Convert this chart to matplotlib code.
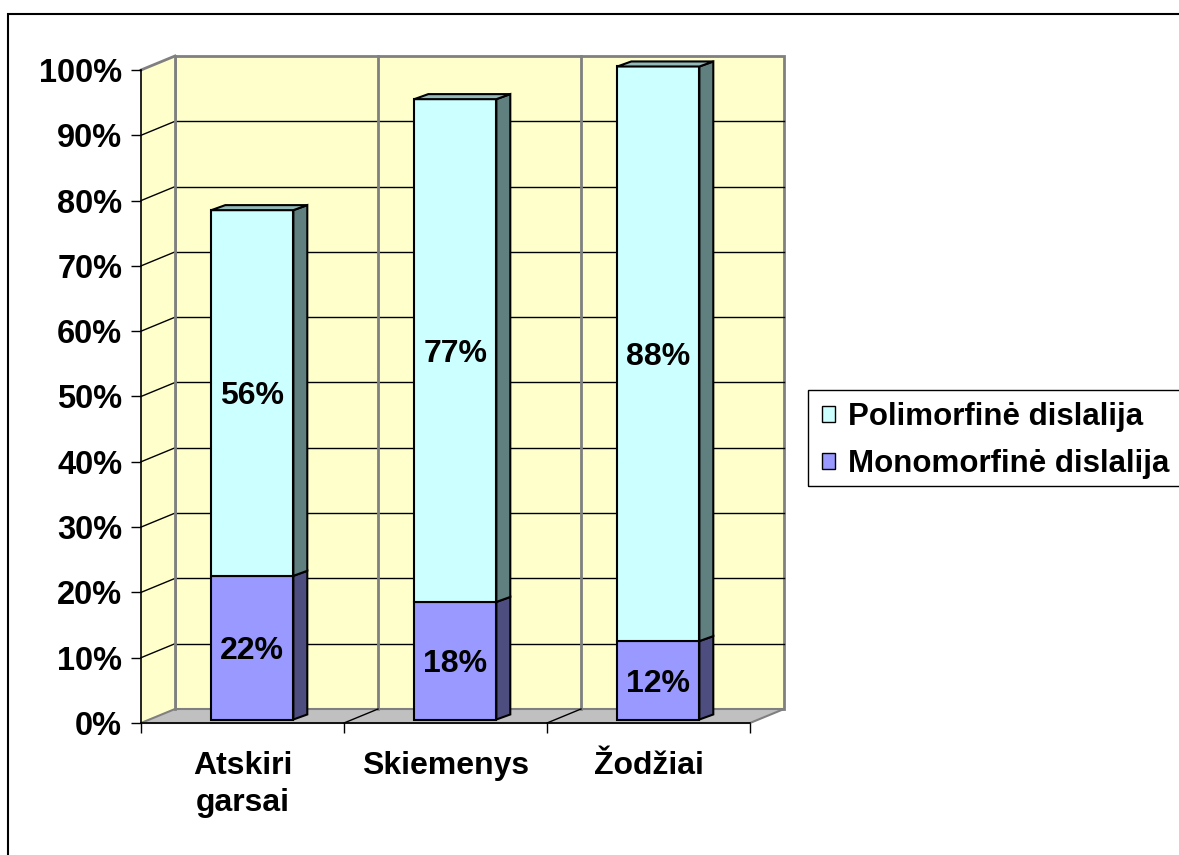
import numpy as np
import matplotlib
matplotlib.use("Agg")
import matplotlib.pyplot as plt
from matplotlib.patches import Polygon, Rectangle, Patch

plt.rcParams['font.family'] = ['Liberation Sans', 'DejaVu Sans']
plt.rcParams['font.weight'] = 'bold'

# data
categories = ["Atskiri\ngarsai", "Skiemenys", "Žodžiai"]
mono = [22, 18, 12]
poly = [56, 77, 88]
series_names = ["Polimorfinė dislalija", "Monomorfinė dislalija"]
yticks = np.arange(0, 101, 10)

# colours (Excel 97 style)
wall_c = "#FFFFCC"
floor_c = "#C0C0C0"
edge_grey = "#808080"
poly_front, poly_side, poly_top = "#CCFFFF", "#5F807F", "#93B9B9"
mono_front, mono_side, mono_top = "#9999FF", "#4D4D80", "#7373BF"

W, H = 1179, 855
fig = plt.figure(figsize=(W / 100, H / 100), dpi=100)

# front plane of the plot in pixels
x0_px, x1_px, y0_px, y1_px = 141, 750, 723, 70
ax = fig.add_axes([x0_px / W, (H - y0_px) / H, (x1_px - x0_px) / W, (y0_px - y1_px) / H])
ax.set_xlim(0, len(categories))
ax.set_ylim(0, 100)
ax.patch.set_alpha(0)

px_x = (x1_px - x0_px) / len(categories)
px_y = (y0_px - y1_px) / 100.0
DX, DY = 34 / px_x, 14 / px_y          # depth of the walls in data units
n = len(categories)


def poly_patch(pts, fc, ec, lw, z):
    p = Polygon(pts, closed=True, facecolor=fc, edgecolor=ec, lw=lw, zorder=z,
                clip_on=False, joinstyle="miter")
    ax.add_patch(p)


# walls and floor
poly_patch([(DX, DY), (n + DX, DY), (n + DX, 100 + DY), (DX, 100 + DY)], wall_c, edge_grey, 2, 0.5)
poly_patch([(0, 0), (DX, DY), (DX, 100 + DY), (0, 100)], wall_c, "none", 0, 0.5)
poly_patch([(0, 0), (n, 0), (n + DX, DY), (DX, DY)], floor_c, edge_grey, 1.5, 0.6)

for y in yticks[1:-1]:
    ax.plot([DX, n + DX], [y + DY, y + DY], color="black", lw=1, zorder=0.7, clip_on=False)
    ax.plot([0, DX], [y, y + DY], color="black", lw=1, zorder=0.7, clip_on=False)
ax.plot([0, DX], [100, 100 + DY], color=edge_grey, lw=2, zorder=0.7, clip_on=False)
ax.plot([DX, DX], [DY, 100 + DY], color=edge_grey, lw=2, zorder=0.8, clip_on=False)
for i in range(1, n):
    ax.plot([i + DX, i + DX], [DY, 100 + DY], color=edge_grey, lw=2, zorder=0.8, clip_on=False)
    ax.plot([i, i + DX], [0, DY], color="black", lw=1, zorder=0.8, clip_on=False)

# bars
bw = 82 / px_x
fx, fy = 0.29 * DX, 0.25 * DY
bx, by = 0.41 * DX, 0.36 * DY
for i in range(n):
    c = i + 0.5
    xa, xb = c - bw / 2 + fx, c + bw / 2 + fx
    segs = [(0, mono[i], mono_front, mono_side, mono_top),
            (mono[i], mono[i] + poly[i], poly_front, poly_side, poly_top)]
    for k, (b, t, cf, cs, ct) in enumerate(segs):
        poly_patch([(xb, b + fy), (xb + bx, b + fy + by), (xb + bx, t + fy + by), (xb, t + fy)],
                   cs, "black", 1.5, 3)
        poly_patch([(xa, b + fy), (xb, b + fy), (xb, t + fy), (xa, t + fy)], cf, "black", 1.5, 3)
        if k == len(segs) - 1:
            poly_patch([(xa, t + fy), (xb, t + fy), (xb + bx, t + fy + by), (xa + bx, t + fy + by)],
                       ct, "black", 1.5, 3)
        ax.text((xa + xb) / 2, (b + t) / 2 + fy - 0.5, f"{t - b}%", ha="center", va="center",
                fontsize=23, fontweight="bold", zorder=5)

# axes
for s in ["top", "right"]:
    ax.spines[s].set_visible(False)
for s in ["left", "bottom"]:
    ax.spines[s].set_color("black")
    ax.spines[s].set_linewidth(1.2)
    ax.spines[s].set_zorder(2)
ax.set_yticks(yticks)
ax.set_yticklabels([f"{v}%" for v in yticks], fontsize=23.5, fontweight="bold")
ax.tick_params(axis="y", length=7.5, width=1, pad=6)
ax.set_xticks(np.arange(0, n + 1))
ax.set_xticklabels([])
ax.tick_params(axis="x", which="major", length=7.5, width=1)
ax.set_xticks(np.arange(n) + 0.5, minor=True)
ax.set_xticklabels(categories, minor=True, fontsize=23, fontweight="bold", linespacing=1.3)
ax.tick_params(axis="x", which="minor", length=0, pad=20)

# legend (its frame runs past the right edge of the picture, so it is drawn separately)
handles = [Patch(facecolor=poly_front, edgecolor="black", lw=1),
           Patch(facecolor=mono_front, edgecolor="black", lw=1)]
leg = fig.legend(handles, series_names, loc="center left",
                 bbox_to_anchor=(808 / W, (H - 440.5) / H), borderaxespad=0,
                 handlelength=0.42, handleheight=0.42, handletextpad=0.42,
                 borderpad=0.45, labelspacing=0.53, frameon=False,
                 prop={"weight": "bold", "size": 22.5})
fig.patches.append(Rectangle((808 / W, (H - 486) / H), 0.5, 96 / H, transform=fig.transFigure,
                             fill=False, edgecolor="black", lw=1))

# outer chart border (cut off by the picture edge)
fig.patches.append(Rectangle((8 / W, -0.1), 1.2, (H - 14) / H + 0.1, transform=fig.transFigure,
                             fill=False, edgecolor="black", lw=1.5))

fig.savefig("out.png", dpi=100)
